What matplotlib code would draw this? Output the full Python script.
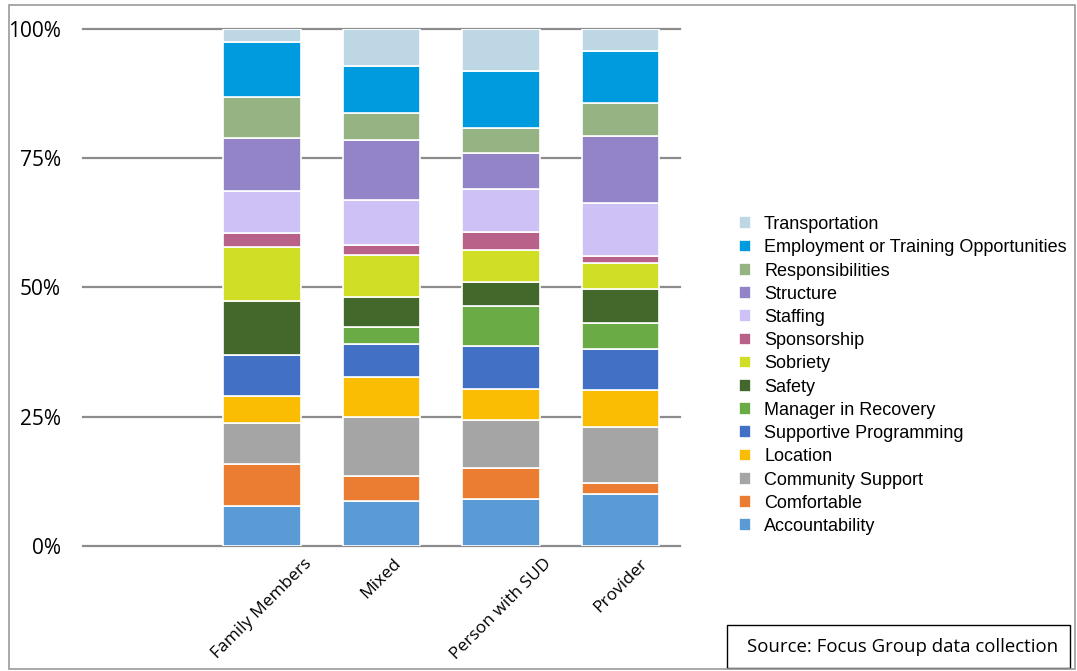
import matplotlib.pyplot as plt
import numpy as np
from matplotlib.patches import Rectangle

groups = ["Family Members", "Mixed", "Person with SUD", "Provider"]

# bottom to top stacking order
themes = ["Accountability", "Comfortable", "Community Support", "Location",
          "Supportive Programming", "Manager in Recovery", "Safety", "Sobriety",
          "Sponsorship", "Staffing", "Structure", "Responsibilities",
          "Employment or Training Opportunities", "Transportation"]

accountability = [7.7, 8.7, 9.0, 10.1]
comfortable = [8.1, 4.8, 6.1, 2.1]
community_support = [7.9, 11.5, 9.2, 10.8]
location = [5.3, 7.7, 6.0, 7.2]
supportive_programming = [7.9, 6.3, 8.4, 7.9]
manager_in_recovery = [0.0, 3.3, 7.7, 5.1]
safety = [10.4, 5.9, 4.7, 6.6]
sobriety = [10.6, 8.1, 6.2, 5.0]
sponsorship = [2.7, 1.9, 3.5, 1.3]
staffing = [8.0, 8.7, 8.3, 10.2]
structure = [10.4, 11.7, 6.9, 13.0]
responsibilities = [7.8, 5.2, 4.8, 6.4]
employment = [10.7, 9.0, 11.0, 10.1]
transportation = [2.5, 7.2, 8.2, 4.2]

series = [accountability, comfortable, community_support, location,
          supportive_programming, manager_in_recovery, safety, sobriety,
          sponsorship, staffing, structure, responsibilities, employment,
          transportation]

colors = ["#5B9BD5", "#EB7D32", "#A5A5A5", "#FBBC04", "#4170C4", "#6AAB45",
          "#43682B", "#D0DF25", "#B8628A", "#CEC1F5", "#9384C8", "#95B383",
          "#009ADE", "#BDD7E4"]

fig = plt.figure(figsize=(10.77, 6.71), dpi=100)
ax = fig.add_axes([0.0771, 0.1863, 0.5543, 0.7705])

x = np.arange(len(groups))
total = np.sum(np.array(series), axis=0)
bottom = np.zeros(len(groups))
handles = []
for name, vals, c in zip(themes, series, colors):
    pct = np.array(vals) / total * 100
    b = ax.bar(x, pct, 0.65, bottom=bottom, color=c, edgecolor="white",
               linewidth=1.2, label=name, zorder=3)
    handles.append(b)
    bottom += pct

ax.set_xlim(-1.5, 3.5)
ax.set_ylim(0, 100)
yt = [0, 25, 50, 75, 100]
for v in yt:
    ax.axhline(v, color="#8c8c8c", linewidth=1.6, zorder=0, clip_on=False)
ax.set_yticks(yt)
ax.set_yticklabels(["0%", "25%", "50%", "75%", "100%"],
                   fontsize=15, family="Open Sans")
ax.tick_params(axis="y", length=0, pad=16)
ax.tick_params(axis="x", length=0, pad=7)
ax.set_xticks(x)
ax.set_xticklabels(groups, rotation=45, ha="center",
                   fontsize=12.5, family="Open Sans")
for s in ax.spines.values():
    s.set_visible(False)

leg = fig.legend(handles[::-1], themes[::-1], loc="upper left",
                 bbox_to_anchor=(0.686, 0.678), frameon=False,
                 prop={"family": "Liberation Sans", "size": 13},
                 handlelength=0.7, handleheight=0.7, handletextpad=0.7,
                 labelspacing=0.345, borderpad=0, borderaxespad=0)

# source box
fig.add_artist(Rectangle((727 / 1077, 3 / 671), (1070 - 727) / 1077, 43 / 671,
                         transform=fig.transFigure, fill=False,
                         edgecolor="black", linewidth=1))
fig.text(747 / 1077, 24 / 671, "Source: Focus Group data collection",
         fontsize=13.4, family="Open Sans", va="center", ha="left")

# outer frame
fig.add_artist(Rectangle((9 / 1077, 2 / 671), (1075 - 9) / 1077, (666 - 2) / 671,
                         transform=fig.transFigure, fill=False,
                         edgecolor="#9a9a9a", linewidth=1.2))

plt.savefig("out.png", dpi=100)
